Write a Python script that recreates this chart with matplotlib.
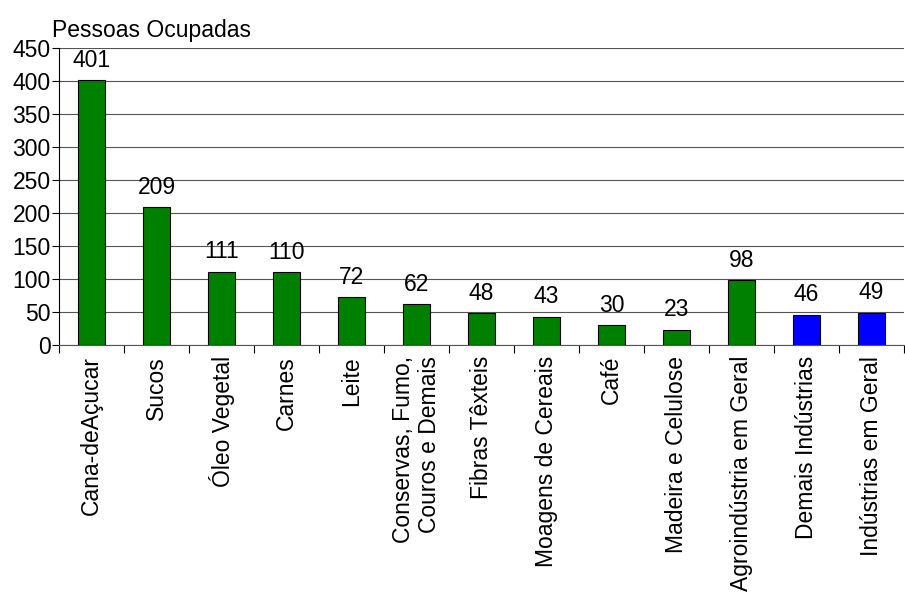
import numpy as np
import matplotlib
matplotlib.use("Agg")
import matplotlib.pyplot as plt

categories = ["Cana-deAçucar", "Sucos", "Óleo Vegetal", "Carnes", "Leite",
              "Conservas, Fumo,\nCouros e Demais", "Fibras Têxteis",
              "Moagens de Cereais", "Café", "Madeira e Celulose",
              "Agroindústria em Geral", "Demais Indústrias",
              "Indústrias em Geral"]
values = [401, 209, 111, 110, 72, 62, 48, 43, 30, 23, 98, 46, 49]
colors = ["#008000"] * 11 + ["#0000ff"] * 2

plt.rcParams['font.family'] = ['Liberation Sans', 'DejaVu Sans']
fs = 16.5

fig = plt.figure(figsize=(9.05, 6.02), dpi=100)
ax = fig.add_axes([59 / 905, 1 - 345 / 602, 845 / 905, 297 / 602])

x = np.arange(len(categories))
ax.bar(x, values, width=0.42, color=colors, edgecolor="black", linewidth=0.8, zorder=3)

for xi, v in zip(x, values):
    ax.annotate(str(v), (xi, v), xytext=(0, 6), textcoords="offset points",
                ha="center", va="bottom", fontsize=fs)

ax.set_xlim(-0.5, len(categories) - 0.5)
ax.set_ylim(0, 450)
ax.set_yticks(np.arange(0, 451, 50))
ax.yaxis.grid(True, color="#555555", linewidth=0.8, zorder=0)
ax.tick_params(axis="y", labelsize=fs, length=5, pad=1)

ax.set_xticks(x)
ax.set_xticklabels(categories, rotation=90, fontsize=fs, va="top", ha="center",
                   multialignment="right")
ax.tick_params(axis="x", which="major", length=0, pad=8)
ax.set_xticks(np.arange(-0.5, len(categories)), minor=True)
ax.tick_params(axis="x", which="minor", length=6, width=0.8, direction="out")

for s in ["top", "right"]:
    ax.spines[s].set_visible(False)
ax.spines["bottom"].set_color("#555555")

fig.text(52 / 905, 1 - 30 / 602, "Pessoas Ocupadas", fontsize=fs, va="center", ha="left")

fig.savefig("out.png", dpi=100)
